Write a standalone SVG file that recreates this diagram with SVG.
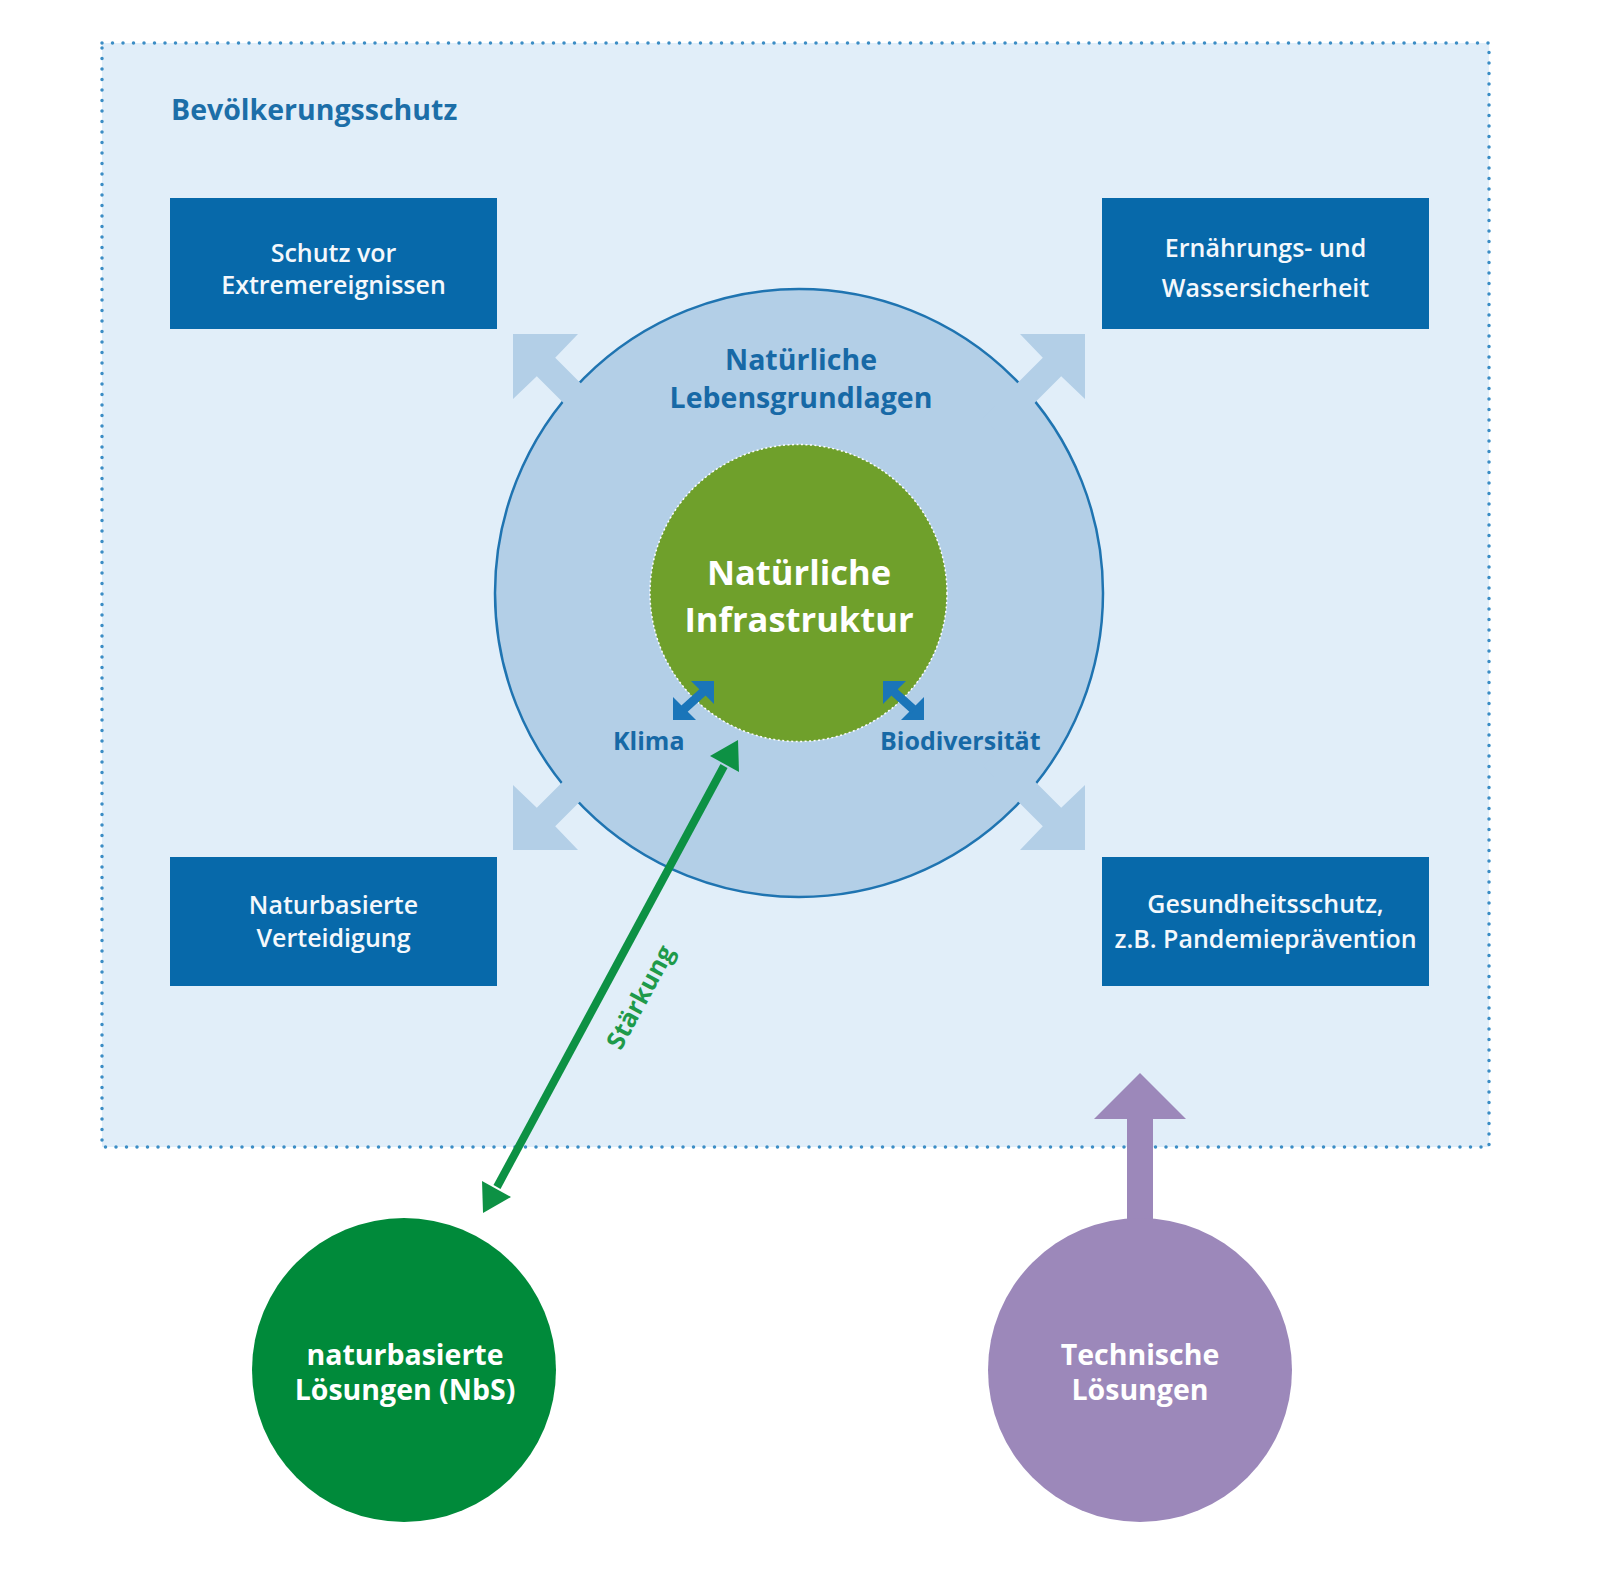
<svg xmlns="http://www.w3.org/2000/svg" width="1600" height="1586" viewBox="0 0 1600 1586">
<defs>
<style>
.box{fill:#0769aa}
.boxtxt{font-family:"Open Sans","Noto Sans",sans-serif;font-size:25px;font-weight:600;fill:#f4f8fc;text-anchor:middle}
.bold{font-family:"Open Sans","Noto Sans",sans-serif;font-weight:700}
.pale{fill:#b3cfe7}
.dblue{fill:#1a75b9}
</style>
<polygon id="palearrow" class="pale" points="0,0 65,0 42.2,23.8 102.2,83.8 83.8,102.2 23.8,42.2 0,65"/>
<g id="dbl">
<polygon points="0,0 23,0 0,23"/>
<polygon points="41,39 18,39 41,16"/>
<line x1="10" y1="10" x2="31" y2="29" stroke="#1a75b9" stroke-width="9"/>
</g>
</defs>
<rect width="1600" height="1586" fill="#ffffff"/>
<g id="frame">
<rect x="102" y="43" width="1387" height="1104" fill="#e1eef9" stroke="#3b8dc5" stroke-width="3.5" stroke-dasharray="0 10.5" stroke-linecap="round"/>
<text class="bold" x="171" y="120" font-size="28.5" fill="#1c6ea8">Bevölkerungsschutz</text>
</g>
<g id="node-schutz">
<rect class="box" x="170" y="198" width="327" height="131"/>
<text class="boxtxt" x="333.5" y="262">Schutz vor</text>
<text class="boxtxt" x="333.5" y="294">Extremereignissen</text>
</g>
<g id="node-ernaehrung">
<rect class="box" x="1102" y="198" width="327" height="131"/>
<text class="boxtxt" x="1265.5" y="257">Ernährungs- und</text>
<text class="boxtxt" x="1265.5" y="297">Wassersicherheit</text>
</g>
<g id="node-verteidigung">
<rect class="box" x="170" y="857" width="327" height="129"/>
<text class="boxtxt" x="333.5" y="914">Naturbasierte</text>
<text class="boxtxt" x="333.5" y="947">Verteidigung</text>
</g>
<g id="node-gesundheit">
<rect class="box" x="1102" y="857" width="327" height="129"/>
<text class="boxtxt" x="1265.5" y="913">Gesundheitsschutz,</text>
<text class="boxtxt" x="1265.5" y="948">z.B. Pandemieprävention</text>
</g>
<g id="node-lebensgrundlagen">
<circle cx="799" cy="593" r="304" fill="#b3cfe7" stroke="#1f74b1" stroke-width="2.5"/>
</g>
<g id="connectors">
<use href="#palearrow" transform="translate(513,334)"/>
<use href="#palearrow" transform="translate(1085,334) scale(-1,1)"/>
<use href="#palearrow" transform="translate(513,850) scale(1,-1)"/>
<use href="#palearrow" transform="translate(1085,850) scale(-1,-1)"/>
<polygon fill="#9c88ba" points="1140,1073 1186,1119 1153,1119 1153,1232 1127,1232 1127,1119 1094,1119"/>
<line x1="497" y1="1187" x2="724" y2="766" stroke="#0d9144" stroke-width="8"/>
<polygon fill="#0d9144" points="738,740 739,772 710,756"/>
<polygon fill="#0d9144" points="483,1213 482,1181 511,1197"/>
<text class="bold" font-size="25" fill="#1e9a4a" text-anchor="middle" transform="translate(640,997) rotate(-61.5)" y="9">Stärkung</text>
</g>
<g id="label-lebensgrundlagen">
<text class="bold" font-size="28.5" fill="#1769a6" text-anchor="middle" x="801" y="370">Natürliche</text>
<text class="bold" font-size="28.5" fill="#1769a6" text-anchor="middle" x="801" y="408">Lebensgrundlagen</text>
</g>
<g id="node-infrastruktur">
<circle cx="798.5" cy="593" r="148.5" fill="#6fa02b" stroke="#ffffff" stroke-width="1.5" stroke-dasharray="2 2.5"/>
<text class="bold" font-size="34.5" fill="#ffffff" text-anchor="middle" x="799" y="585">Natürliche</text>
<text class="bold" font-size="34.5" fill="#ffffff" text-anchor="middle" x="799" y="632">Infrastruktur</text>
</g>
<g id="small-arrows">
<use href="#dbl" class="dblue" transform="translate(673,720) scale(1,-1)"/>
<use href="#dbl" class="dblue" transform="translate(883,681)"/>
</g>
<g id="node-klima">
<text class="bold" font-size="25" fill="#1769a6" x="613" y="750">Klima</text>
</g>
<g id="node-biodiversitaet">
<text class="bold" font-size="25" fill="#1769a6" x="880" y="750">Biodiversität</text>
</g>
<g id="node-nbs">
<circle cx="404" cy="1370" r="152" fill="#008a3a"/>
<text class="bold" font-size="28.5" fill="#ffffff" text-anchor="middle" x="405" y="1365">naturbasierte</text>
<text class="bold" font-size="28.5" fill="#ffffff" text-anchor="middle" x="405" y="1400">Lösungen (NbS)</text>
</g>
<g id="node-technisch">
<circle cx="1140" cy="1370" r="152" fill="#9c88ba"/>
<text class="bold" font-size="28.5" fill="#ffffff" text-anchor="middle" x="1140" y="1365">Technische</text>
<text class="bold" font-size="28.5" fill="#ffffff" text-anchor="middle" x="1140" y="1400">Lösungen</text>
</g>
</svg>
